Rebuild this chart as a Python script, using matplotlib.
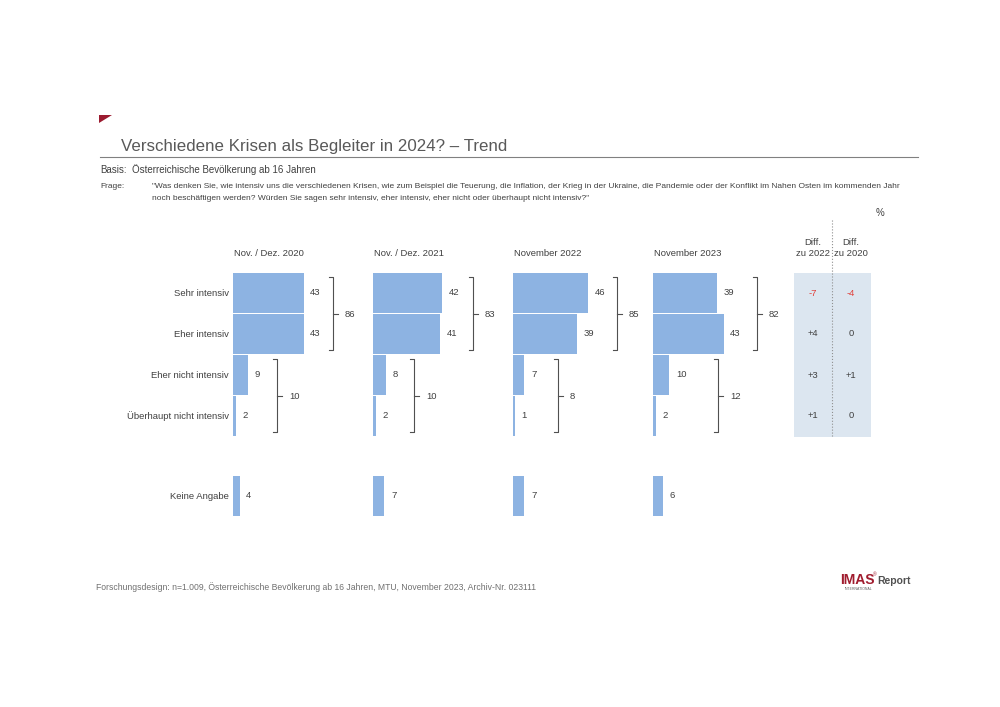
import matplotlib
matplotlib.use("Agg")
import matplotlib.pyplot as plt
from matplotlib.patches import Polygon, Rectangle

plt.rcParams['font.family'] = ['Liberation Sans', 'DejaVu Sans']

# --- data ---
categories = ["Sehr intensiv", "Eher intensiv", "Eher nicht intensiv",
              "Überhaupt nicht intensiv", "Keine Angabe"]
waves = ["Nov. / Dez. 2020", "Nov. / Dez. 2021", "November 2022", "November 2023"]
values = [
    [43, 43, 9, 2, 4],
    [42, 41, 8, 2, 7],
    [46, 39, 7, 1, 7],
    [39, 43, 10, 2, 6],
]
sum_intensiv = [86, 83, 85, 82]
sum_nicht = [10, 10, 8, 12]
diff_2022 = [-7, 4, 3, 1]
diff_2020 = [-4, 0, 1, 0]
diff_headers = ["Diff.\nzu 2022", "Diff.\nzu 2020"]

# --- layout (pixels) ---
W, H = 1000, 707
bar_color = '#8db3e2'
txt = '#404040'
px_per_unit = 1.64
panel_x = [233, 373, 513, 653]
panel_w = 135
top_px, bot_px = 272.5, 518.5
rows = [0, 1, 2, 3, 4.95]
bracket_top_off = [100, 100, 104, 104]
bracket_bot_off = [44, 41, 45, 65]


def rect(x0, y0, w, h):
    return [x0 / W, 1 - (y0 + h) / H, w / W, h / H]


fig = plt.figure(figsize=(10, 7.07), dpi=100)

# background axes in pixel coordinates for decoration
bg = fig.add_axes([0, 0, 1, 1])
bg.set_xlim(0, W)
bg.set_ylim(H, 0)
bg.axis('off')

bg.add_patch(Polygon([[99, 115], [112, 115], [99, 123]], closed=True,
                     color='#9b1b30', lw=0))
bg.text(121, 146, "Verschiedene Krisen als Begleiter in 2024? – Trend",
        fontsize=12.2, color='#595959', va='center', ha='left')
bg.plot([100, 918], [157, 157], color='#808080', lw=0.8)
bg.text(100, 170, "Basis:", fontsize=7, color=txt, va='center')
bg.text(132, 170, "Österreichische Bevölkerung ab 16 Jahren", fontsize=7,
        color=txt, va='center')
bg.text(100, 187, "Frage:", fontsize=6, color=txt, va='center')
bg.text(152, 187, "\"Was denken Sie, wie intensiv uns die verschiedenen Krisen, wie zum "
        "Beispiel die Teuerung, die Inflation, der Krieg in der Ukraine, die Pandemie "
        "oder der Konflikt im Nahen Osten im kommenden Jahr", fontsize=6.05, color=txt,
        va='center')
bg.text(152, 198, "noch beschäftigen werden? Würden Sie sagen sehr intensiv, eher "
        "intensiv, eher nicht oder überhaupt nicht intensiv?\"", fontsize=6.05,
        color=txt, va='center')
bg.text(880, 213, "%", fontsize=7, color=txt, ha='center', va='center')

# diff block
bg.add_patch(Rectangle((794, 272.5), 77, 164, color='#dce6f0', lw=0, zorder=0))
bg.plot([832, 832], [220, 436], color='#909090', lw=0.8, ls=':', zorder=1)
diff_x = [813, 851]
for cx, head, col in zip(diff_x, diff_headers, [diff_2022, diff_2020]):
    bg.text(cx, 248, head, fontsize=6.8, color=txt, ha='center', va='center',
            linespacing=1.3)
    for i, v in enumerate(col):
        label = "0" if v == 0 else f"{v:+d}"
        bg.text(cx, 293 + 41 * i, label, fontsize=6.8, ha='center', va='center',
                color='#e0403a' if v < 0 else txt)

# row labels
for r, cat in zip(rows, categories):
    bg.text(229, 293.5 + 41 * r, cat, fontsize=6.8,
            color=txt, ha='right', va='center')

# footer + logo
bg.text(96, 587, "Forschungsdesign: n=1.009, Österreichische Bevölkerung ab 16 Jahren, "
        "MTU, November 2023, Archiv-Nr. 023111", fontsize=6.2, color='#707070',
        va='center')
bg.text(840, 580, "IMAS", fontsize=10, color='#a01c2e', fontweight='bold',
        va='center')
bg.text(872.5, 575, "®", fontsize=3.5, color='#a01c2e', va='center')
bg.text(877, 581, "Report", fontsize=7.5, color='#505050', fontweight='bold',
        va='center')
bg.text(845, 589.5, "INTERNATIONAL", fontsize=2.5, color='#606060', va='center')

# panels
ylim = (5.5, -0.5)
for p, (x0, wave, vals) in enumerate(zip(panel_x, waves, values)):
    ax = fig.add_axes(rect(x0, top_px, panel_w, bot_px - top_px))
    ax.set_facecolor('none')
    ax.set_xlim(0, panel_w / px_per_unit)
    ax.set_ylim(*ylim)
    ax.axis('off')
    ax.barh(rows, vals, height=0.975, color=bar_color, edgecolor='none')
    off = 6.5 / px_per_unit
    for r, v in zip(rows, vals):
        ax.text(v + off, r, str(v), fontsize=6.8,
                color=txt, va='center', ha='left')
    ax.text(0.5 / px_per_unit, -0.5 - 19 / 41, wave, fontsize=6.8, color=txt,
            ha='left', va='center', clip_on=False)

    # brackets
    for off_px, y_a, y_b, total in [(bracket_top_off[p], 0, 1, sum_intensiv[p]),
                                    (bracket_bot_off[p], 2, 3, sum_nicht[p])]:
        bx = off_px / px_per_unit
        t0 = y_a - 0.4
        t1 = y_b + 0.38
        tick = 4 / px_per_unit
        ax.plot([bx - tick, bx, bx, bx - tick], [t0, t0, t1, t1],
                color='#505050', lw=0.8, clip_on=False)
        mid = (y_a + y_b) / 2 + 0.02
        ax.plot([bx, bx + 5 / px_per_unit], [mid, mid], color='#505050',
                lw=0.8, clip_on=False)
        ax.text(bx + 12 / px_per_unit, mid, str(total), fontsize=6.8,
                color=txt, va='center', ha='left', clip_on=False)

fig.savefig("out.png", dpi=100)
